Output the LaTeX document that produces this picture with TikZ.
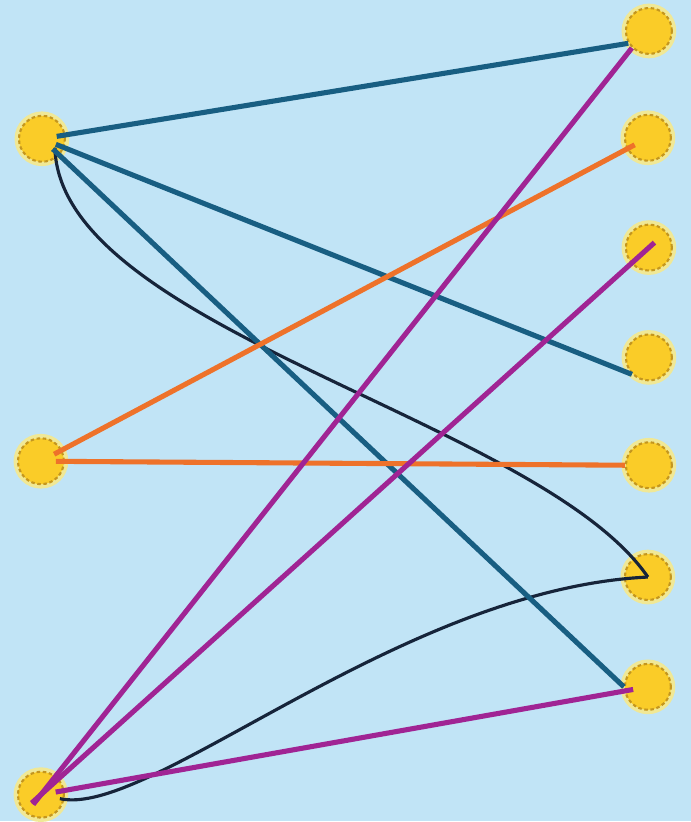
\documentclass[tikz,border=0pt]{standalone}
\usepackage{xcolor}
\usepackage{tikz}
\usetikzlibrary{arrows.meta, positioning, calc}

\definecolor{skyback}{RGB}{193,228,246}
\definecolor{sunfill}{RGB}{250,204,40}
\definecolor{sunedge}{RGB}{196,150,30}
\definecolor{sunglow}{RGB}{240,232,150}
\definecolor{tealblue}{RGB}{24,94,130}
\definecolor{carrot}{RGB}{238,114,42}
\definecolor{plum}{RGB}{160,36,148}
\definecolor{inkline}{RGB}{22,36,58}

\begin{document}
\begin{tikzpicture}[
    x=0.02cm, y=-0.02cm,
    sun/.style={
        circle,
        minimum size=0.92cm,
        inner sep=0pt,
        fill=sunfill,
        draw=sunedge,
        line width=1.2pt,
        dash pattern=on 2pt off 1.5pt,
        preaction={draw=sunglow, line width=5pt, solid}
    },
    link/.style={line width=2.9pt, shorten <=0.3cm, shorten >=0.3cm},
    bluelink/.style={link, tealblue},
    orangelink/.style={link, carrot},
    purplelink/.style={link, plum},
    curvelink/.style={inkline, line width=1.8pt}
]

% Background
\fill[skyback] (0,0) rectangle (692,822);

% Left column
\node[sun] (l1) at (42,139) {};
\node[sun] (l2) at (41,462) {};
\node[sun] (l3) at (41,796) {};

% Right column
\node[sun] (r1) at (650,31) {};
\node[sun] (r2) at (649,138) {};
\node[sun] (r3) at (650,248) {};
\node[sun] (r4) at (650,358) {};
\node[sun] (r5) at (650,466) {};
\node[sun] (r6) at (649,578) {};
\node[sun] (r7) at (649,688) {};

% Curved links
\draw[curvelink] ($(l1.center)+(13,9)$) .. controls (60,330) and (540,420) .. (r6.center);
\draw[curvelink] ($(l3.center)+(19,4)$) .. controls (150,820) and (400,590) .. (r6.center);

% Blue links
\draw[bluelink, shorten >=0cm] (l1.center) -- (r1.211);
\draw[bluelink, shorten >=0cm] (l1.center) -- (r4.south west);
\draw[bluelink, shorten >=0cm] (l1.center) -- (r7.west);

% Orange links
\draw[orangelink] (l2.center) -- (r2.center);
\draw[orangelink, shorten >=0cm] (l2.center) -- (r5.west);

% Purple links
\draw[purplelink, shorten <=-0.25cm, shorten >=0cm] (l3.center) -- (r1.south west);
\draw[purplelink, shorten <=-0.25cm, shorten >=-0.15cm] (l3.center) -- (r3.center);
\draw[purplelink] (l3.center) -- (r7.center);

\end{tikzpicture}
\end{document}
